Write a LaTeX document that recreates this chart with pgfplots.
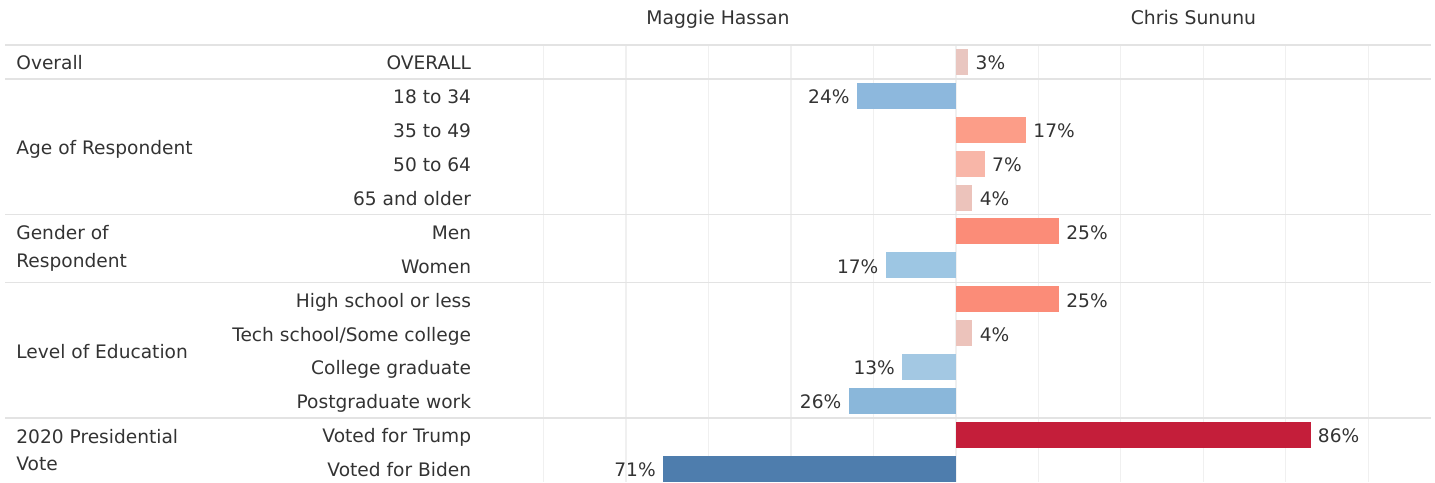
\documentclass[border=0pt]{standalone}
\usepackage{fontspec}
\setmainfont{DejaVu Sans}
\usepackage{pgfplots}
\pgfplotsset{compat=1.18}
\definecolor{txt}{HTML}{333333}
\definecolor{sepc}{HTML}{E3E3E3}
\definecolor{gridc}{HTML}{F0F0F0}
\definecolor{bA}{HTML}{4E7DAD}
\definecolor{b24}{HTML}{8DB8DD}
\definecolor{b17}{HTML}{9DC6E3}
\definecolor{b13}{HTML}{A3C8E3}
\definecolor{b26}{HTML}{8AB7DA}
\definecolor{rA}{HTML}{C41E3A}
\definecolor{r25}{HTML}{FB8C78}
\definecolor{r17}{HTML}{FC9D88}
\definecolor{r7}{HTML}{F8B6A8}
\definecolor{r4}{HTML}{ECC3BB}
\definecolor{r3}{HTML}{E9C6C0}
\newcommand{\bodyfont}{\fontsize{9.3}{11}\selectfont}
\pgfplotsset{
  posbar/.style={every node near coord/.append style={anchor=west}},
  negbar/.style={every node near coord/.append style={anchor=east}},
}
\begin{document}
\begin{tikzpicture}
\useasboundingbox (-240pt,0pt) rectangle (477.5pt,241pt);
\begin{axis}[
  at={(0pt,0pt)}, anchor=south west,
  scale only axis, width=475.5pt, height=218.5pt,
  xbar, bar width=13pt,
  xmin=-115.4, xmax=115.2, ymin=0.61, ymax=13.5,
  axis line style={draw=none},
  tick style={draw=none},
  xtick={-100,-80,...,100}, xticklabels={},
  xmajorgrids, major grid style={color=gridc, line width=0.6pt},
  ytick={1,...,13},
  yticklabels={Voted for Biden, Voted for Trump, Postgraduate work, College graduate, Tech school/Some college, High school or less, Women, Men, 65 and older, 50 to 64, 35 to 49, 18 to 34, OVERALL},
  yticklabel style={font=\bodyfont, text=txt, inner sep=0pt, xshift=0pt, text height=1.45ex, text depth=0pt},
  clip=false,
  point meta=explicit symbolic,
  nodes near coords={\pgfplotspointmeta},
  every node near coord/.append style={font=\bodyfont, text=txt, inner xsep=3.5pt, inner ysep=0pt, text height=1.45ex, text depth=0pt},
  every axis plot/.append style={draw=none, bar shift=0pt},
]
\addplot[fill=r3, posbar] coordinates {(3,13) [3\%]};
\addplot[fill=b24, negbar] coordinates {(-24,12) [24\%]};
\addplot[fill=r17, posbar] coordinates {(17,11) [17\%]};
\addplot[fill=r7, posbar] coordinates {(7,10) [7\%]};
\addplot[fill=r4, posbar] coordinates {(4,9) [4\%]};
\addplot[fill=r25, posbar] coordinates {(25,8) [25\%]};
\addplot[fill=b17, negbar] coordinates {(-17,7) [17\%]};
\addplot[fill=r25, posbar] coordinates {(25,6) [25\%]};
\addplot[fill=r4, posbar] coordinates {(4,5) [4\%]};
\addplot[fill=b13, negbar] coordinates {(-13,4) [13\%]};
\addplot[fill=b26, negbar] coordinates {(-26,3) [26\%]};
\addplot[fill=rA, posbar] coordinates {(86,2) [86\%]};
\addplot[fill=bA, negbar] coordinates {(-71,1) [71\%]};

\draw[sepc, line width=0.8pt] ([xshift=-237.5pt]axis cs:-115.4,13.5) -- (axis cs:115.2,13.5);
\draw[sepc, line width=0.8pt] ([xshift=-237.5pt]axis cs:-115.4,12.5) -- (axis cs:115.2,12.5);
\draw[sepc, line width=0.8pt] ([xshift=-237.5pt]axis cs:-115.4,8.5) -- (axis cs:115.2,8.5);
\draw[sepc, line width=0.8pt] ([xshift=-237.5pt]axis cs:-115.4,6.5) -- (axis cs:115.2,6.5);
\draw[sepc, line width=0.8pt] ([xshift=-237.5pt]axis cs:-115.4,2.5) -- (axis cs:115.2,2.5);
\begin{scope}[every node/.style={font=\bodyfont, text=txt, anchor=west, inner sep=0pt, text height=1.45ex, text depth=0pt, align=left}]
\node at ([xshift=-232pt]axis cs:-115.4,13) {Overall};
\node at ([xshift=-232pt]axis cs:-115.4,10.5) {Age of Respondent};
\node at ([xshift=-232pt, yshift=8.5pt]axis cs:-115.4,7.5) {Gender of};
\node at ([xshift=-232pt, yshift=-5.5pt]axis cs:-115.4,7.5) {Respondent};
\node at ([xshift=-232pt]axis cs:-115.4,4.5) {Level of Education};
\node at ([xshift=-232pt, yshift=8.3pt]axis cs:-115.4,1.5) {2020 Presidential};
\node at ([xshift=-232pt, yshift=-5.3pt]axis cs:-115.4,1.5) {Vote};
\end{scope}
\node[font=\fontsize{9.4}{11}\selectfont, text=txt, anchor=base, inner sep=0pt] at ([yshift=10pt]axis cs:-57.7,13.5) {Maggie Hassan};
\node[font=\fontsize{9.4}{11}\selectfont, text=txt, anchor=base, inner sep=0pt] at ([yshift=10pt]axis cs:57.6,13.5) {Chris Sununu};
\end{axis}
\end{tikzpicture}
\end{document}
